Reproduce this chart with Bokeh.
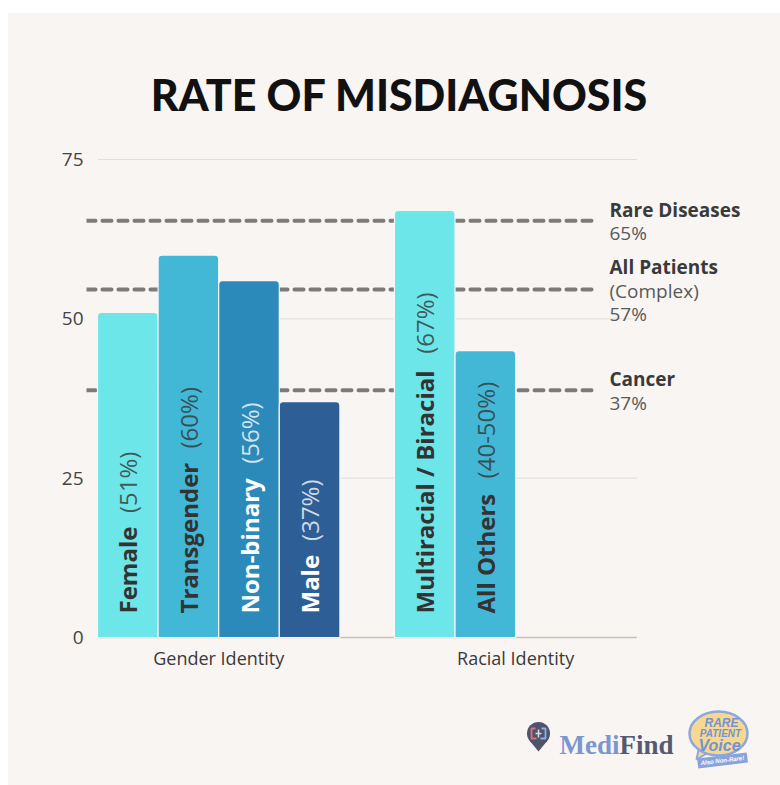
import math
from bokeh.plotting import figure
from bokeh.models import Range1d, FixedTicker, ColumnDataSource, Spacer
from bokeh.layouts import column, row
from bokeh.core.properties import value
from bokeh.embed import file_html
from bokeh.resources import INLINE

# ---------------- data ----------------
title_text = "RATE OF MISDIAGNOSIS"
groups = ["Gender Identity", "Racial Identity"]
gender_labels = ["Female", "Transgender", "Non-binary", "Male"]
gender_pct_text = ["(51%)", "(60%)", "(56%)", "(37%)"]
gender_values = [51, 60, 56, 37]
racial_labels = ["Multiracial / Biracial", "All Others"]
racial_pct_text = ["(67%)", "(40-50%)"]
racial_values = [67, 45]
ref_names = ["Rare Diseases", "All Patients", "Cancer"]
ref_notes = [["65%"], ["(Complex)", "57%"], ["37%"]]
ref_levels = [65.4, 54.6, 38.8]
y_ticks = [0, 25, 50, 75]

# ---------------- styles ----------------
PANEL = "#f8f5f2"
gender_colors = ["#6de6e9", "#42b8d6", "#2c8aba", "#2e5e96"]
racial_colors = ["#6de6e9", "#42b8d6"]
gender_text_colors = ["#333333", "#333333", "#ffffff", "#ffffff"]
racial_text_colors = ["#333333", "#333333"]
FONT_NAME = "Open Sans"
FONT = value(FONT_NAME)

# ---------------- layout helpers (pixel <-> data) ----------------
PX_X = 60.6          # px per bar slot
PX_Y = 6.3733        # px per percentage point
X0_PAGE, Y0_PAGE = 97, 637
def xd(px): return (px - X0_PAGE) / PX_X
def yd(py): return (Y0_PAGE - py) / PX_Y

FIG_W = 772
LEFT_B = 78
SLOTS = 4
GROUP_GAP = 0.9

gender_x = [i + 0.5 for i in range(len(gender_values))]
racial_start = SLOTS + GROUP_GAP
racial_x = [racial_start + i + 0.5 for i in range(len(racial_values))]
group_centers = [SLOTS / 2, racial_start + SLOTS / 2]
plot_right = racial_start + SLOTS

p = figure(width=FIG_W, height=677, output_backend="svg", toolbar_location=None,
           x_range=Range1d(xd(86), xd(8 + FIG_W)), y_range=Range1d(yd(640), yd(13)),
           min_border_left=LEFT_B, min_border_right=0, min_border_top=0, min_border_bottom=50)
p.background_fill_color = PANEL
p.border_fill_color = PANEL
p.outline_line_color = None
p.grid.visible = False

# y axis
p.yaxis.ticker = FixedTicker(ticks=y_ticks)
p.yaxis.axis_line_color = None
p.yaxis.major_tick_line_color = None
p.yaxis.minor_tick_line_color = None
p.yaxis.major_tick_out = 0
p.yaxis.major_tick_in = 0
p.yaxis.minor_tick_out = 0
p.yaxis.major_label_standoff = 3
p.yaxis.major_label_text_font = FONT_NAME
p.yaxis.major_label_text_font_size = "19px"
p.yaxis.major_label_text_color = "#444444"

# x axis (group labels)
p.xaxis.ticker = FixedTicker(ticks=group_centers)
p.xaxis.major_label_overrides = {c: g for c, g in zip(group_centers, groups)}
p.xaxis.axis_line_color = None
p.xaxis.major_tick_line_color = None
p.xaxis.minor_tick_line_color = None
p.xaxis.major_tick_out = 0
p.xaxis.major_tick_in = 0
p.xaxis.minor_tick_out = 0
p.xaxis.major_label_standoff = 5
p.xaxis.major_label_text_font = FONT_NAME
p.xaxis.major_label_text_font_size = "18px"
p.xaxis.major_label_text_color = "#3a3a3a"

# gridlines
grid_y = [t for t in y_ticks if t != 0]
p.segment(x0=[0] * len(grid_y), x1=[plot_right] * len(grid_y), y0=grid_y, y1=grid_y,
          line_color="#e1ddd9", line_width=1)
p.segment(x0=[0], x1=[plot_right], y0=[0], y1=[0], line_color="#c6c1bc", line_width=1.6)

# dashed reference lines (behind bars)
n_ref = len(ref_levels)
p.segment(x0=[xd(86)] * n_ref, x1=[xd(598)] * n_ref, y0=ref_levels, y1=ref_levels,
          line_color="#7b7b7b", line_width=4, line_dash="9 7", line_cap="round")

# bars
bars = ColumnDataSource(dict(
    x=gender_x + racial_x,
    top=gender_values + racial_values,
    color=gender_colors + racial_colors,
))
p.vbar(x="x", top="top", bottom=0, width=1, source=bars, fill_color="color",
       line_color=PANEL, line_width=1.2, border_radius=(4, 4, 0, 0))

# bar labels (rotated): bold name + regular percentage
BOLD_EM = {
    'A': .72, 'B': .68, 'C': .63, 'D': .73, 'E': .56, 'F': .54, 'G': .72, 'H': .77, 'I': .33,
    'M': .94, 'N': .80, 'O': .78, 'P': .64, 'R': .66, 'S': .55, 'T': .57,
    'a': .59, 'b': .62, 'c': .50, 'd': .62, 'e': .58, 'f': .39, 'g': .55, 'h': .64, 'i': .30,
    'l': .30, 'm': .95, 'n': .64, 'o': .61, 'p': .62, 'r': .44, 's': .50, 't': .42, 'u': .64,
    'y': .57, ' ': .26, '/': .44, '-': .32,
}
LABEL_SIZE = 24
def bold_width(s):
    return sum(BOLD_EM.get(ch, .6) for ch in s) * LABEL_SIZE * 1.03

START = 24
GAP = 13
all_labels = gender_labels + racial_labels
all_pct = gender_pct_text + racial_pct_text
all_x = gender_x + racial_x
all_tc = gender_text_colors + racial_text_colors
lab = ColumnDataSource(dict(
    x=all_x, y=[0] * len(all_x), name=all_labels, pct=all_pct, tc=all_tc,
    off_name=[-START] * len(all_x),
    off_pct=[-(START + bold_width(s) + GAP) for s in all_labels],
))
p.text(x="x", y="y", text="name", source=lab, angle=math.pi / 2, y_offset="off_name",
       text_align="left", text_baseline="middle", text_font=FONT, text_font_style="bold",
       text_font_size=f"{LABEL_SIZE}px", text_color="tc")
p.text(x="x", y="y", text="pct", source=lab, angle=math.pi / 2, y_offset="off_pct",
       text_align="left", text_baseline="middle", text_font=FONT, text_font_style="normal",
       text_font_size=f"{LABEL_SIZE}px", text_color="tc", text_alpha=0.78)

# reference annotations on the right
LINE_H = 23.5
bx, by, bt, boff, nx, ny, nt, noff = [], [], [], [], [], [], [], []
for name, notes, lvl in zip(ref_names, ref_notes, ref_levels):
    n = 1 + len(notes)
    first = -(n - 1) * LINE_H / 2 + 1.0
    bx.append(xd(609)); by.append(lvl); bt.append(name); boff.append(first)
    for k, note in enumerate(notes, start=1):
        nx.append(xd(609)); ny.append(lvl); nt.append(note); noff.append(first + k * LINE_H)
p.text(x=bx, y=by, text=bt, y_offset=boff, text_align="left", text_baseline="alphabetic",
       text_font=FONT, text_font_style="bold", text_font_size="19px", text_color="#3a3a3a")
p.text(x=nx, y=ny, text=nt, y_offset=noff, text_align="left", text_baseline="alphabetic",
       text_font=FONT, text_font_style="normal", text_font_size="19px", text_color="#5a5a5a")

# title
p.text(x=[xd(399)], y=[yd(94)], text=[title_text], text_align="center",
       text_baseline="alphabetic", text_font=value("'Lato Black', Lato"),
       text_font_style="bold", text_font_size="43px", text_color="#111111")

# ---------------- logo strip (data units == page pixels) ----------------
q = figure(width=FIG_W, height=95, output_backend="svg", toolbar_location=None,
           x_range=Range1d(8 + LEFT_B, 8 + FIG_W), y_range=Range1d(785, 690),
           x_axis_location=None, y_axis_location=None,
           min_border_left=LEFT_B, min_border_right=0, min_border_top=0, min_border_bottom=0)
q.background_fill_color = PANEL
q.border_fill_color = PANEL
q.outline_line_color = None
q.grid.visible = False

# MediFind pin icon
q.patch([529.2, 546.8, 538], [740.3, 740.3, 751], fill_color="#4f546a", line_color=None)
q.circle(x=[538], y=[733], radius=11.5, fill_color="#4f546a", line_color=None)
q.line([535, 531, 531, 536], [728, 728, 738, 738], line_color="#e0707a", line_width=1.8)
q.line([541, 545, 545, 540], [728, 728, 738, 738], line_color="#8fb0ee", line_width=1.8)
q.line([535, 541], [733, 733], line_color="#d8dce8", line_width=1.5)
q.line([538, 538], [729, 737], line_color="#d8dce8", line_width=1.5)
q.text(x=[619], y=[744], text=["Medi"], text_align="right", text_baseline="alphabetic",
       text_font=value("Liberation Serif"), text_font_style="bold", text_font_size="27px",
       text_color="#7c96d2")
q.text(x=[619], y=[744], text=["Find"], text_align="left", text_baseline="alphabetic",
       text_font=value("Liberation Serif"), text_font_style="bold", text_font_size="27px",
       text_color="#555a70")

# Rare Patient Voice logo
q.patch([699, 708, 696], [745, 752, 759], fill_color="#f6d88f", line_color="#8ea8dd", line_width=2)
q.ellipse(x=[718], y=[733], width=58, height=44, fill_color="#f6d88f",
          line_color="#8ea8dd", line_width=2.5)
q.text(x=[721], y=[722.5], text=["RARE"], text_align="center", text_baseline="middle",
       text_font=value("Liberation Sans"), text_font_style="bold italic",
       text_font_size="12px", text_color="#7393d6")
q.text(x=[720], y=[733], text=["PATIENT"], text_align="center", text_baseline="middle",
       text_font=value("Liberation Sans"), text_font_style="bold italic",
       text_font_size="10px", text_color="#7393d6")
q.text(x=[719], y=[745], text=["Voice"], text_align="center", text_baseline="middle",
       text_font=value("Liberation Sans"), text_font_style="bold italic",
       text_font_size="16px", text_color="#7393d6")
q.rect(x=[722], y=[760], width=50, height=10, angle=0.12, fill_color="#88a4dc", line_color=None)
q.text(x=[722], y=[760], text=["Also Non-Rare!"], angle=0.12, text_align="center",
       text_baseline="middle", text_font=value("Liberation Sans"),
       text_font_style="bold italic", text_font_size="6px", text_color="#ffffff")

panel = column(p, q, styles={"background-color": PANEL})
layout = row(Spacer(width=8, height=785), column(Spacer(width=FIG_W, height=13), panel))
open("out.html", "w").write(file_html(layout, INLINE))
